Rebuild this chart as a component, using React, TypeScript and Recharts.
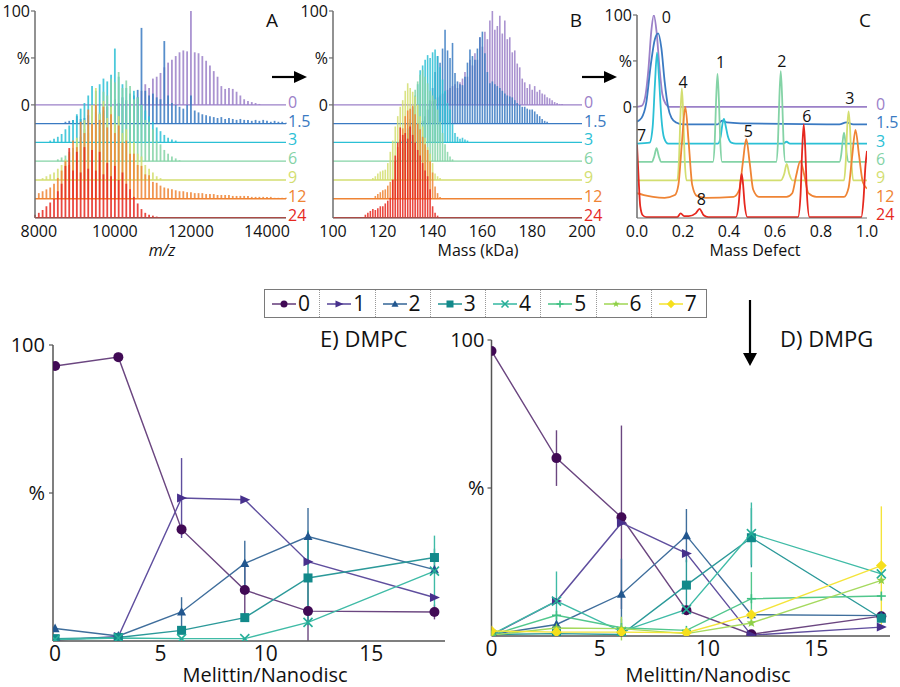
import React from "react";
import {
  ComposedChart,
  LineChart,
  Line,
  Scatter,
  ErrorBar,
  XAxis,
  YAxis,
  ReferenceLine,
  LabelList,
} from "recharts";

const FONT = "'Open Sans', 'Noto Sans', sans-serif";
const axisGray = "#6e6e6e";

// stacked spectra, one per melittin/nanodisc ratio
const traceNames = ["0", "1.5", "3", "6", "9", "12", "24"];
const traceColors = ["#9b80c8", "#3a7ac2", "#2bc0d5", "#84d3a6", "#d3de70", "#ef8434", "#e6281f"];
const traceOffsets = [0, -20, -40, -60, -80, -100, -120];

// A) native m/z spectra, one stick every 100 m/z from the start value
const mzStep = 100;
const mzStart = [10300, 8700, 8300, 8500, 8100, 8000, 7900];
const mz0 = [1, 2, 3, 8, 15, 22, 18, 28, 30, 34, 40, 45, 48, 52, 56, 58, 57, 100, 56, 55, 52, 47, 42, 36, 30, 20, 17, 18, 17, 14, 10, 6, 4, 3, 2, 1];
const mz1_5 = [2, 3, 4, 8, 5, 6, 9, 8, 12, 10, 14, 18, 20, 26, 22, 28, 25, 32, 30, 36, 102, 35, 30, 32, 28, 26, 88, 30, 22, 20, 18, 16, 20, 30, 14, 12, 10, 9, 8, 7, 6, 7, 5, 6, 5, 4, 5, 4, 4, 3, 4, 3, 4, 3, 2, 3, 2, 2, 1];
const mz3 = [2, 4, 6, 9, 14, 18, 24, 30, 36, 42, 50, 60, 55, 62, 68, 65, 72, 100, 70, 62, 58, 50, 55, 48, 40, 34, 28, 22, 16, 12, 8, 5, 3, 2];
const mz6 = [2, 4, 6, 10, 14, 20, 26, 34, 30, 50, 58, 52, 74, 70, 88, 84, 95, 78, 86, 80, 66, 68, 60, 44, 42, 34, 22, 18, 12, 8, 5, 3, 1];
const mz9 = [2, 4, 6, 8, 12, 16, 22, 28, 26, 45, 40, 64, 58, 80, 98, 70, 84, 66, 78, 60, 68, 50, 54, 40, 40, 28, 25, 16, 12, 8, 4, 2];
const mz12 = [6, 8, 10, 12, 16, 22, 30, 40, 36, 62, 55, 82, 70, 95, 80, 100, 84, 98, 76, 90, 70, 78, 60, 62, 48, 48, 36, 35, 26, 25, 18, 17, 14, 12, 11, 10, 9, 8, 8, 7, 7, 6, 6, 6, 5, 5, 5, 4, 4, 4, 4, 3, 3, 3, 3, 3, 2, 2, 2, 2, 2, 2, 1, 1, 1, 1];
const mz24 = [3, 5, 8, 12, 16, 20, 28, 36, 55, 74, 50, 70, 48, 75, 52, 72, 50, 70, 46, 58, 44, 55, 40, 48, 36, 30, 22, 15, 9, 5, 3, 2, 1];
const mzHeights = [mz0, mz1_5, mz3, mz6, mz9, mz12, mz24];

// B) deconvolved mass, one stick per kDa from the start value
const kdaStep = 1;
const kdaStart = [140, 136, 128, 126, 116, 117, 113];
const kda0 = [4, 6, 8, 10, 12, 14, 16, 18, 20, 22, 18, 24, 28, 35, 30, 48, 42, 55, 48, 72, 62, 78, 70, 90, 100, 80, 84, 95, 76, 90, 70, 72, 56, 58, 44, 40, 28, 24, 18, 22, 16, 20, 14, 16, 12, 11, 8, 7, 5, 3, 2, 1, 1];
const kda1_5 = [3, 8, 15, 25, 38, 55, 72, 65, 80, 100, 78, 70, 86, 54, 45, 42, 41, 50, 65, 79, 72, 68, 80, 92, 98, 75, 55, 43, 45, 42, 40, 38, 35, 32, 30, 29, 28, 25, 22, 20, 18, 18, 16, 15, 15, 13, 10, 8, 5, 3, 2];
const kda3 = [3, 8, 15, 25, 38, 50, 62, 77, 82, 88, 93, 90, 96, 99, 92, 80, 67, 55, 42, 35, 20, 10, 6, 4, 5, 3, 2];
const kda6 = [3, 8, 14, 22, 30, 37, 55, 76, 85, 92, 97, 90, 83, 75, 70, 66, 55, 42, 30, 18, 10, 5, 2];
const kda9 = [2, 4, 7, 9, 10, 11, 18, 30, 42, 57, 68, 78, 85, 95, 103, 98, 94, 89, 80, 68, 57, 45, 35, 28, 18, 7, 4, 2];
const kda12 = [3, 5, 7, 9, 10, 14, 18, 21, 40, 55, 63, 75, 88, 94, 96, 99, 90, 80, 74, 66, 58, 52, 40, 28, 13, 6, 2];
const kda24 = [3, 5, 7, 9, 8, 10, 12, 12, 15, 18, 21, 40, 66, 80, 96, 88, 90, 84, 97, 88, 80, 72, 66, 58, 50, 44, 30, 12, 5, 2];
const kdaHeights = [kda0, kda1_5, kda3, kda6, kda9, kda12, kda24];

// C) mass defect traces as [mass defect, intensity]
const md0: [number, number][] = [[0, 0], [0.02, 1], [0.035, 10], [0.05, 42], [0.062, 82], [0.073, 100], [0.085, 82], [0.098, 42], [0.11, 14], [0.125, 3], [0.14, 0], [1, 0]];
const md1_5: [number, number][] = [[0, 4], [0.02, 8], [0.04, 24], [0.06, 66], [0.078, 94], [0.092, 100], [0.106, 84], [0.12, 48], [0.135, 20], [0.15, 8], [0.17, 3], [0.2, 1], [0.35, 1], [0.37, 5], [0.39, 3], [0.45, 2], [0.88, 1], [0.91, 3], [0.94, 1], [1, 1]];
const md3: [number, number][] = [[0, 0], [0.055, 1], [0.068, 18], [0.078, 65], [0.087, 99], [0.096, 70], [0.106, 28], [0.118, 6], [0.135, 0], [0.352, 0], [0.364, 8], [0.372, 22], [0.378, 27], [0.385, 20], [0.395, 8], [0.41, 1], [0.43, 0], [0.635, 0], [0.65, 2], [0.665, 0], [1, 0]];
const md6: [number, number][] = [[0, 0], [0.065, 0], [0.075, 6], [0.085, 15], [0.095, 6], [0.105, 0], [0.33, 0], [0.338, 22], [0.344, 68], [0.35, 96], [0.356, 68], [0.362, 22], [0.37, 0], [0.605, 0], [0.613, 23], [0.619, 70], [0.625, 99], [0.631, 70], [0.637, 23], [0.645, 0], [0.88, 0], [0.888, 8], [0.894, 22], [0.9, 32], [0.906, 22], [0.912, 8], [0.92, 0], [1, 0]];
const md9: [number, number][] = [[0, 0], [0.175, 0], [0.183, 25], [0.189, 72], [0.195, 100], [0.201, 72], [0.207, 25], [0.215, 0], [0.625, 0], [0.64, 7], [0.651, 18], [0.662, 7], [0.675, 0], [0.9, 0], [0.908, 22], [0.914, 58], [0.92, 75], [0.926, 58], [0.932, 22], [0.94, 0], [1, 0]];
const md12: [number, number][] = [[0, 6], [0.03, 4], [0.07, 2], [0.12, 1], [0.165, 4], [0.18, 15], [0.195, 60], [0.21, 100], [0.225, 60], [0.24, 15], [0.26, 3], [0.3, 1], [0.42, 2], [0.445, 10], [0.46, 39], [0.475, 65], [0.49, 39], [0.505, 10], [0.53, 2], [0.65, 2], [0.675, 6], [0.692, 25], [0.71, 41], [0.728, 25], [0.745, 6], [0.78, 2], [0.9, 2], [0.92, 12], [0.935, 45], [0.95, 75], [0.965, 48], [0.982, 18], [1, 11]];
const md24: [number, number][] = [[0, 79], [0.007, 42], [0.014, 12], [0.025, 2], [0.04, 0], [0.175, 0], [0.19, 4], [0.205, 1], [0.225, 1], [0.255, 4], [0.272, 9], [0.29, 2], [0.31, 0], [0.43, 0], [0.442, 14], [0.449, 36], [0.455, 47], [0.461, 36], [0.468, 14], [0.48, 0], [0.7, 0], [0.711, 24], [0.718, 72], [0.725, 101], [0.732, 72], [0.739, 24], [0.75, 0], [0.975, 0], [0.985, 20], [0.993, 55], [1, 72]];
const mdTraces = [md0, md1_5, md3, md6, md9, md12, md24];

// peak labels (number of bound melittin) in panel C
const mdPeakText = ["0", "1", "2", "3", "4", "5", "6", "7", "8"];
const mdPeakX = [0.128, 0.363, 0.63, 0.925, 0.2, 0.484, 0.738, 0.02, 0.28];
const mdPeakY = [97, 48, 50, 9, 27, -27, -10, -31, -101];

// D/E) bound melittin populations vs melittin/nanodisc ratio
const melittin = [0, 3, 6, 9, 12, 18];
const seriesNames = ["0", "1", "2", "3", "4", "5", "6", "7"];
const markerColors = ["#410a55", "#47308c", "#22578f", "#12898a", "#25ae98", "#3cc083", "#8fd048", "#f6df1c"];
const lineColors = ["#6b4680", "#5f4e9e", "#3f6e9c", "#2b9999", "#3fbba6", "#52c78d", "#a5d95e", "#f4e43a"];
const markerShapes = ["circle", "right", "up", "square", "cross", "plus", "star", "diamond"];

const dmpc = [
  [92.9, 95.9, 37.7, 17.2, 10.1, 9.8],
  [0.3, 1.5, 48.3, 47.7, 26.8, 14.7],
  [4.2, 1.7, 9.8, 26.2, 35.3, 24.1],
  [0.8, 1.2, 3.6, 7.9, 21.3, 28.2],
  [0.5, 1.0, 0.8, 0.8, 6.3, 23.6],
];
const dmpcErr = [
  [0, 1.5, 2, 8.5, 10, 2.5],
  [0, 0, 13.5, 0, 0, 0],
  [0, 0, 5, 7.7, 9.6, 0],
  [0, 0, 0, 0, 16, 3],
  [0, 0, 0, 0, 0, 12],
];
const dmpg = [
  [96.3, 60.1, 40.1, 8.7, 0.6, 6.7],
  [0.3, 11.8, 38.2, 27.9, 0.3, 3.0],
  [0.5, 3.9, 14.1, 33.9, 7.2, 6.9],
  [0.5, 0.8, 0.5, 17.2, 33.2, 6.0],
  [0.5, 11.8, 1.5, 9.0, 34.6, 21.0],
  [0.3, 7.0, 2.8, 1.9, 12.6, 13.5],
  [0.3, 2.7, 2.5, 0.8, 4.4, 18.8],
  [1.7, 1.3, 1.3, 1.1, 7.2, 23.8],
];
const dmpgErr = [
  [0, 9.4, 31, 0, 0, 0],
  [0, 0, 0, 0, 0, 0],
  [0, 0, 12, 9, 0, 0],
  [0, 0, 0, 8.6, 10, 0],
  [0, 10, 0, 0, 10.5, 0],
  [0, 0, 3, 0, 9, 0],
  [0, 0, 4, 0, 0, 0],
  [0, 0, 0, 0, 0, 20],
];

const pctFmt = (v: number) => (v === 50 ? "%" : String(v));
const noShape = () => <g />;

const sticks = (start: number, step: number, heights: number[], off: number) =>
  heights.map((h, i) => ({ x: start + i * step, y: off, e: [0, h] }));

const traceTick = (p: any) => {
  const i = traceOffsets.indexOf(p.payload.value);
  return (
    <text x={p.x} y={p.y} dy={3} textAnchor="start" fill={traceColors[i]} fontSize={16} fontFamily={FONT}>
      {traceNames[i]}
    </text>
  );
};

function Marker({ shape, cx, cy, color, s }: any) {
  if (cx == null || cy == null) return <g />;
  switch (shape) {
    case "circle":
      return <circle cx={cx} cy={cy} r={s} fill={color} />;
    case "right":
      return <polygon points={`${cx - s},${cy - s} ${cx + s + 1},${cy} ${cx - s},${cy + s}`} fill={color} />;
    case "up":
      return <polygon points={`${cx - s},${cy + s * 0.8} ${cx + s},${cy + s * 0.8} ${cx},${cy - s * 1.1}`} fill={color} />;
    case "square":
      return <rect x={cx - s} y={cy - s} width={2 * s} height={2 * s} fill={color} />;
    case "cross":
      return (
        <g stroke={color} strokeWidth={1.6}>
          <line x1={cx - s} y1={cy - s} x2={cx + s} y2={cy + s} />
          <line x1={cx - s} y1={cy + s} x2={cx + s} y2={cy - s} />
        </g>
      );
    case "plus":
      return (
        <g stroke={color} strokeWidth={1.6}>
          <line x1={cx - s} y1={cy} x2={cx + s} y2={cy} />
          <line x1={cx} y1={cy - s} x2={cx} y2={cy + s} />
        </g>
      );
    case "star": {
      const pts = Array.from({ length: 10 }, (_, i) => {
        const a = -Math.PI / 2 + (i * Math.PI) / 5;
        const r = i % 2 ? s * 0.45 : s * 1.1;
        return `${cx + r * Math.cos(a)},${cy + r * Math.sin(a)}`;
      }).join(" ");
      return <polygon points={pts} fill={color} />;
    }
    default:
      return <polygon points={`${cx},${cy - s * 1.2} ${cx + s * 1.2},${cy} ${cx},${cy + s * 1.2} ${cx - s * 1.2},${cy}`} fill={color} />;
  }
}

const tick16 = { fontSize: 16, fill: "#111", fontFamily: FONT };

function StackChart({ left, width, rightWidth, rightGap, top, xDomain, xTicks, xFmt, yDomain, children }: any) {
  return (
    <div style={{ position: "absolute", left, top: 0 }}>
      <ComposedChart width={width} height={250} margin={{ top, right: 0, bottom: 2, left: 0 }}>
        <XAxis
          type="number"
          dataKey="x"
          domain={xDomain}
          ticks={xTicks}
          tickFormatter={xFmt}
          allowDataOverflow
          interval={0}
          height={30}
          tickLine={false}
          axisLine={{ stroke: axisGray, strokeWidth: 1.2 }}
          tick={tick16}
        />
        <YAxis
          yAxisId="l"
          type="number"
          dataKey="y"
          domain={yDomain}
          ticks={[0, 50, 100]}
          tickFormatter={pctFmt}
          allowDataOverflow
          interval={0}
          width={35}
          tickSize={4}
          tickMargin={1}
          tick={tick16}
          axisLine={{ stroke: axisGray, strokeWidth: 1.5 }}
          tickLine={{ stroke: axisGray, strokeWidth: 1.2 }}
        />
        <YAxis
          yAxisId="r"
          orientation="right"
          type="number"
          domain={yDomain}
          ticks={traceOffsets}
          allowDataOverflow
          interval={0}
          width={rightWidth}
          tickSize={0}
          tickMargin={rightGap}
          axisLine={false}
          tickLine={false}
          tick={traceTick}
        />
        {children}
      </ComposedChart>
    </div>
  );
}

function stickSeries(starts: number[], step: number, heights: number[][], width: number) {
  const base = traceOffsets.map((o, i) => (
    <ReferenceLine key={`b${i}`} yAxisId="l" y={o} stroke={traceColors[i]} strokeWidth={1.3} />
  ));
  const peaks = heights.map((h, i) => (
    <Scatter
      key={`s${i}`}
      yAxisId="l"
      data={sticks(starts[i], step, h, traceOffsets[i])}
      dataKey="y"
      shape={noShape}
      isAnimationActive={false}
    >
      <ErrorBar dataKey="e" direction="y" width={0} stroke={traceColors[i]} strokeWidth={width} strokeOpacity={0.85} />
    </Scatter>
  ));
  return [...base, ...peaks];
}

function TitrationChart({ left, top, margin, yWidth, yTickMargin, xDomain, values, errors }: any) {
  const rows = melittin.map((x, j) => {
    const r: any = { x };
    values.forEach((s: number[], k: number) => {
      r["s" + k] = s[j];
      r["e" + k] = errors[k][j];
    });
    return r;
  });
  return (
    <div style={{ position: "absolute", left, top }}>
      <LineChart width={460} height={387} data={rows} margin={margin}>
        <XAxis
          type="number"
          dataKey="x"
          domain={xDomain}
          ticks={[0, 5, 10, 15]}
          allowDataOverflow
          interval={0}
          height={387 - margin.top - margin.bottom - 296}
          tickLine={false}
          tickSize={5}
          tickMargin={0}
          axisLine={{ stroke: "#555", strokeWidth: 1.5 }}
          tick={{ fontSize: 21, fill: "#111", fontFamily: FONT }}
        />
        <YAxis
          type="number"
          domain={[0, 100]}
          ticks={[50, 100]}
          tickFormatter={pctFmt}
          allowDataOverflow
          interval={0}
          width={yWidth}
          tickSize={4}
          tickMargin={yTickMargin}
          axisLine={{ stroke: "#555", strokeWidth: 1.5 }}
          tickLine={{ stroke: "#555", strokeWidth: 1.2 }}
          tick={{ fontSize: 20, fill: "#111", fontFamily: FONT }}
        />
        {values.map((_: number[], k: number) => (
          <Line
            key={k}
            type="linear"
            dataKey={"s" + k}
            stroke={lineColors[k]}
            strokeWidth={1.4}
            activeDot={false}
            isAnimationActive={false}
            dot={(p: any) => (
              <Marker key={`m${k}-${p.index}`} shape={markerShapes[k]} cx={p.cx} cy={p.cy} color={markerColors[k]} s={k === 0 ? 5 : 4.5} />
            )}
          >
            <ErrorBar dataKey={"e" + k} direction="y" width={0} stroke={lineColors[k]} strokeWidth={1.4} />
          </Line>
        ))}
      </LineChart>
    </div>
  );
}

function LegendBox() {
  return (
    <div
      style={{
        position: "absolute",
        left: 264,
        top: 289,
        width: 443,
        height: 29,
        border: "1.5px solid #7a7a7a",
        boxSizing: "border-box",
        display: "flex",
        background: "#fff",
      }}
    >
      {seriesNames.map((n, k) => (
        <div
          key={n}
          style={{
            flex: 1,
            display: "flex",
            alignItems: "center",
            borderLeft: k ? "1px dotted #999" : "none",
            paddingLeft: 6,
          }}
        >
          <svg width={26} height={20}>
            <line x1={1} y1={10} x2={25} y2={10} stroke={lineColors[k]} strokeWidth={1.6} />
            <Marker shape={markerShapes[k]} cx={13} cy={10} color={markerColors[k]} s={3.5} />
          </svg>
          <span style={{ fontSize: 21, fontFamily: FONT, lineHeight: "21px", marginLeft: 1, color: "#111" }}>{n}</span>
        </div>
      ))}
    </div>
  );
}

function Overlay() {
  const t = { fontFamily: FONT, fill: "#111" };
  return (
    <svg width={900} height={687} style={{ position: "absolute", left: 0, top: 0, pointerEvents: "none" }}>
      <text x={272} y={27} fontSize={19} textAnchor="middle" {...t}>A</text>
      <text x={576} y={27} fontSize={19} textAnchor="middle" {...t}>B</text>
      <text x={865} y={27} fontSize={19} textAnchor="middle" {...t}>C</text>
      <text x={162} y={256} fontSize={16} fontStyle="italic" textAnchor="middle" {...t}>m/z</text>
      <text x={478} y={256} fontSize={16} textAnchor="middle" {...t}>Mass (kDa)</text>
      <text x={755} y={256} fontSize={16} textAnchor="middle" {...t}>Mass Defect</text>
      <line x1={272} y1={77} x2={296} y2={77} stroke="#000" strokeWidth={2.2} />
      <polygon points="307,77 294,71 294,83" fill="#000" />
      <line x1={582} y1={77} x2={606} y2={77} stroke="#000" strokeWidth={2.2} />
      <polygon points="617,77 604,71 604,83" fill="#000" />
      <line x1={750} y1={300} x2={750} y2={355} stroke="#000" strokeWidth={2.2} />
      <polygon points="750,366 743,353 757,353" fill="#000" />
      <text x={320} y={347} fontSize={22} {...t}>E) DMPC</text>
      <text x={780} y={347} fontSize={22} {...t}>D) DMPG</text>
      <text x={265} y={682} fontSize={20} textAnchor="middle" {...t}>Melittin/Nanodisc</text>
      <text x={708} y={682} fontSize={20} textAnchor="middle" {...t}>Melittin/Nanodisc</text>
    </svg>
  );
}

export default function App() {
  const mdLabels = mdPeakText.map((t, i) => ({ x: mdPeakX[i], y: mdPeakY[i], t }));
  return (
    <div style={{ position: "absolute", left: 0, top: 0, width: 900, height: 687, background: "#fff", overflow: "hidden" }}>
      <StackChart
        left={0}
        width={330}
        rightWidth={44}
        rightGap={2}
        top={11}
        xDomain={[7900, 14500]}
        xTicks={[8000, 10000, 12000, 14000]}
        yDomain={[-120.5, 100]}
      >
        {stickSeries(mzStart, mzStep, mzHeights, 1.8)}
      </StackChart>
      <StackChart
        left={298}
        width={330}
        rightWidth={46}
        rightGap={2}
        top={11}
        xDomain={[100, 200]}
        xTicks={[100, 120, 140, 160, 180, 200]}
        yDomain={[-120.5, 100]}
      >
        {stickSeries(kdaStart, kdaStep, kdaHeights, 1.6)}
      </StackChart>
      <StackChart
        left={602}
        width={298}
        rightWidth={33}
        rightGap={9}
        top={15}
        xDomain={[0, 1]}
        xTicks={[0, 0.2, 0.4, 0.6, 0.8, 1]}
        xFmt={(v: number) => v.toFixed(1)}
        yDomain={[-121, 100]}
      >
        {mdTraces.map((tr, i) => (
          <Line
            key={`md${i}`}
            yAxisId="l"
            data={tr.map(([x, h]) => ({ x, y: h + traceOffsets[i] }))}
            dataKey="y"
            type="monotone"
            stroke={traceColors[i]}
            strokeWidth={1.8}
            dot={false}
            activeDot={false}
            isAnimationActive={false}
          />
        ))}
        <Scatter yAxisId="l" data={mdLabels} dataKey="y" shape={noShape} isAnimationActive={false}>
          <LabelList dataKey="t" position="center" fill="#111" fontSize={16} fontFamily={FONT} />
        </Scatter>
      </StackChart>
      <LegendBox />
      <TitrationChart
        left={0}
        top={300}
        margin={{ top: 45, right: 15, bottom: 7, left: 0 }}
        yWidth={53}
        yTickMargin={4}
        xDomain={[-0.1, 18.5]}
        values={dmpc}
        errors={dmpcErr}
      />
      <TitrationChart
        left={440}
        top={300}
        margin={{ top: 40, right: 10, bottom: 7, left: 0 }}
        yWidth={51.5}
        yTickMargin={3}
        xDomain={[0, 18.4]}
        values={dmpg}
        errors={dmpgErr}
      />
      <Overlay />
    </div>
  );
}
